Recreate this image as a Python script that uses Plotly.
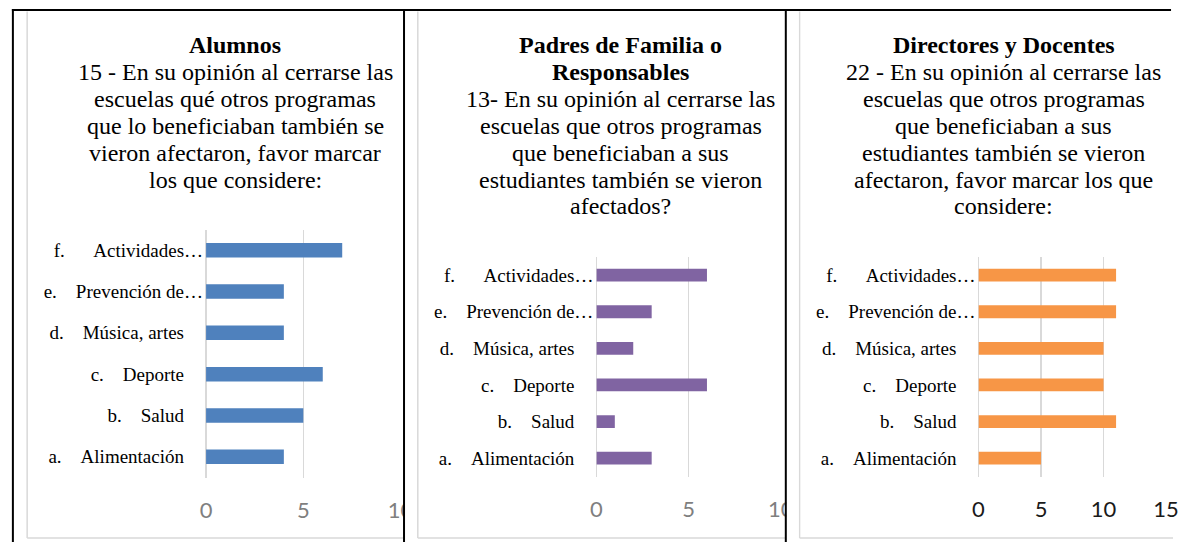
import plotly.graph_objects as go

W, H = 1186, 542

# ---- data ----
NB = "\u00a0"
categories = ["a." + NB * 4 + "Alimentación" + NB * 4,
              "b." + NB * 4 + "Salud" + NB * 4,
              "c." + NB * 4 + "Deporte" + NB * 4,
              "d." + NB * 4 + "Música, artes" + NB * 4,
              "e." + NB * 4 + "Prevención de…",
              "f." + NB * 6 + "Actividades…"]
alumnos = [4, 5, 6, 4, 4, 7]
padres = [3, 1, 6, 2, 3, 6]
docentes = [5, 11, 10, 10, 11, 11]

title_alumnos = ["<b>Alumnos</b>",
                 "15 - En su opinión al cerrarse las",
                 "escuelas qué otros programas",
                 "que lo beneficiaban también se",
                 "vieron afectaron, favor marcar",
                 "los que considere:"]
title_padres = ["<b>Padres de Familia o</b>",
                "<b>Responsables</b>",
                "13- En su opinión al cerrarse las",
                "escuelas que otros programas",
                "que beneficiaban a sus",
                "estudiantes también se vieron",
                "afectados?"]
title_docentes = ["<b>Directores y Docentes</b>",
                  "22 - En su opinión al cerrarse las",
                  "escuelas que otros programas",
                  "que beneficiaban a sus",
                  "estudiantes también se vieron",
                  "afectaron, favor marcar los que",
                  "considere:"]

x_ticks_1 = [0, 5, 10]
x_ticks_3 = [0, 5, 10, 15]


def px(x):
    return min(max(x, 0), W) / W


def py(y):
    return 1 - min(max(y, 0), H) / H


SERIF = "Liberation Serif"
SANS = "Lato"
GRID = "#d9d9d9"

fig = go.Figure()

panels = [
    dict(vals=alumnos, color="#4f81bd", x0=203.3, x1=401.0, y0=229.5, y1=477.5,
         rng=[0, 10], ticks=x_ticks_1, tickcolor="#7f7f7f"),
    dict(vals=padres, color="#8064a2", x0=600.0, x1=787.3, y0=256.8, y1=476.5,
         rng=[0, 10], ticks=x_ticks_1, tickcolor="#7f7f7f"),
    dict(vals=docentes, color="#f79646", x0=988.3, x1=1179.0, y0=256.8, y1=476.5,
         rng=[0, 15], ticks=x_ticks_3, tickcolor="#1a1a1a"),
]

for i, p in enumerate(panels, start=1):
    xa = "x" if i == 1 else f"x{i}"
    ya = "y" if i == 1 else f"y{i}"
    fig.add_trace(go.Bar(x=p["vals"], y=categories, orientation="h",
                         marker=dict(color=p["color"], line=dict(width=0)),
                         xaxis=xa, yaxis=ya, showlegend=False, hoverinfo="x+y"))
    fig.update_layout(**{
        ("xaxis" if i == 1 else f"xaxis{i}"): dict(
            domain=[px(p["x0"]), px(p["x1"])], range=p["rng"], anchor=ya,
            tickvals=p["ticks"], showgrid=True, gridcolor=GRID, gridwidth=1.5,
            zeroline=True, zerolinecolor=GRID, zerolinewidth=1.5,
            showline=False, ticks="", ticklabelstandoff=17,
            ticklabeloverflow="allow",
            tickfont=dict(family=SANS, size=22, color=p["tickcolor"]), fixedrange=True),
        ("yaxis" if i == 1 else f"yaxis{i}"): dict(
            domain=[py(p["y1"]), py(p["y0"])], anchor=xa, type="category",
            categoryorder="array", categoryarray=categories,
            showgrid=False, zeroline=False, showline=False, ticks="",
            ticklabelstandoff=2,
            tickfont=dict(family=SERIF, size=19, color="#000000"), fixedrange=True),
    })

fig.update_layout(bargap=0.65)

# ---- titles ----
annotations = []
line_h = 26.9
for lines, cx in [(title_alumnos, 233), (title_padres, 625), (title_docentes, 1014)]:
    for k, t in enumerate(lines):
        annotations.append(dict(text=t, x=px(cx), y=py(45 + k * line_h), xref="paper",
                                yref="paper", xanchor="center", yanchor="middle",
                                showarrow=False,
                                font=dict(family=SERIF, size=24, color="#000000")))

# ---- frames / table borders (all kept inside the page) ----
shapes = []


def seg(x0, y0, x1, y1, color, width, layer):
    shapes.append(dict(type="line", xref="paper", yref="paper", x0=px(x0), x1=px(x1),
                       y0=py(y0), y1=py(y1), line=dict(color=color, width=width),
                       layer=layer))


for (l, r) in [(21.5, 404), (418.5, 792), (806.5, 1186)]:
    seg(l, 11.5, l, 538, GRID, 1.5, "below")
    seg(l, 538, r, 538, GRID, 1.5, "below")
for (l, r) in [(405, 417.5), (793, 805.5)]:
    shapes.append(dict(type="rect", xref="paper", yref="paper", x0=px(l), x1=px(r),
                       y0=py(542), y1=py(12), line=dict(width=0),
                       fillcolor="#ffffff", layer="above"))
seg(6, 10, 1184, 10, "#000000", 2, "above")
for xv in [7, 404.5, 792.5]:
    seg(xv, 9, xv, 542, "#000000", 2, "above")

fig.update_layout(width=W, height=H, autosize=False,
                  margin=dict(l=0, r=0, t=0, b=0),
                  paper_bgcolor="#ffffff", plot_bgcolor="rgba(0,0,0,0)",
                  annotations=annotations, shapes=shapes)

post = """
document.documentElement.style.overflow='hidden';
document.body.style.margin='0';
document.body.style.overflow='hidden';
var gd=document.getElementById('{plot_id}');
gd.style.overflow='hidden';
gd.querySelectorAll('.svg-container, .main-svg').forEach(function(e){e.style.overflow='hidden';});
"""
fig.write_html("out.html", config={"displayModeBar": False, "staticPlot": True},
               post_script=post)
